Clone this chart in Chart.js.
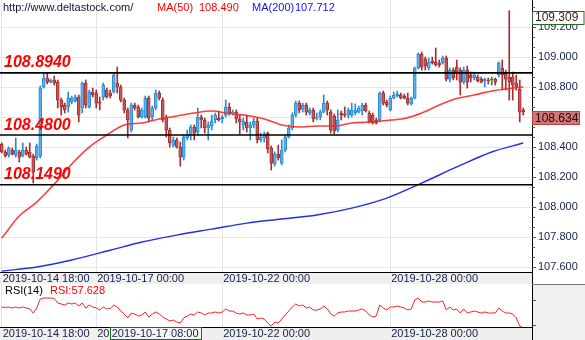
<!DOCTYPE html>
<html><head><meta charset="utf-8">
<script src="https://cdn.jsdelivr.net/npm/chart.js@4"></script>
<style>
html,body{margin:0;padding:0;background:#fff;}
body{width:585px;height:340px;overflow:hidden;position:relative;}
#main{position:absolute;left:0;top:0;}
#rsi{position:absolute;left:0;top:284px;}
</style></head>
<body>
<canvas id="main" width="585" height="284"></canvas>
<canvas id="rsi" width="585" height="56"></canvas>
<script>
// ---------- DATA (2-hour candles) ----------
const openP = [
108.420,108.367,108.347,108.380,108.347,108.367,108.340,108.380,108.367,108.340,
108.327,108.340,108.800,108.860,108.833,108.847,108.833,108.713,108.680,108.667,
108.700,108.707,108.733,108.660,108.827,108.667,108.767,108.760,108.700,108.733,
108.780,108.760,108.767,108.827,108.800,108.713,108.647,108.513,108.680,108.667,
108.600,108.600,108.727,108.600,108.660,108.760,108.713,108.600,108.513,108.413,
108.447,108.400,108.333,108.460,108.480,108.533,108.500,108.600,108.580,108.527,
108.540,108.580,108.593,108.587,108.613,108.667,108.627,108.633,108.587,108.547,
108.567,108.527,108.547,108.573,108.447,108.460,108.493,108.393,108.287,108.353,
108.293,108.380,108.467,108.527,108.613,108.693,108.653,108.680,108.627,108.647,
108.593,108.600,108.633,108.693,108.633,108.607,108.513,108.627,108.620,108.613,
108.613,108.627,108.633,108.640,108.680,108.627,108.613,108.580,108.580,108.760,
108.700,108.647,108.727,108.740,108.747,108.740,108.727,108.687,108.727,108.927,
109.020,108.987,108.927,108.973,108.967,108.960,108.960,108.993,108.853,108.913,
108.933,108.913,108.833,108.913,108.880,108.860,108.867,108.853,108.840,108.847,
108.847,108.853,108.880,108.927,108.893,108.867,108.867,108.827,108.787,108.647];
const highP = [
108.427,108.380,108.400,108.393,108.460,108.380,108.427,108.400,108.427,108.353,
108.420,108.807,108.893,108.893,108.853,108.873,108.847,108.727,108.693,108.767,
108.740,108.747,108.747,108.833,108.847,108.780,108.793,108.780,108.733,108.827,
108.793,108.780,108.893,108.933,108.813,108.727,108.660,108.693,108.693,108.680,
108.660,108.740,108.740,108.673,108.780,108.773,108.727,108.613,108.527,108.467,
108.460,108.433,108.480,108.513,108.547,108.547,108.660,108.613,108.593,108.567,
108.613,108.627,108.640,108.613,108.713,108.693,108.647,108.647,108.613,108.593,
108.613,108.567,108.593,108.593,108.493,108.500,108.500,108.407,108.367,108.413,
108.447,108.480,108.547,108.627,108.707,108.707,108.693,108.693,108.660,108.660,
108.627,108.647,108.747,108.707,108.647,108.620,108.647,108.640,108.667,108.660,
108.693,108.687,108.673,108.693,108.693,108.640,108.627,108.593,108.767,108.773,
108.713,108.740,108.767,108.773,108.760,108.753,108.760,108.733,108.933,109.027,
109.033,109.000,108.993,109.000,109.060,108.980,109.007,109.007,108.927,108.927,
108.980,108.927,108.933,108.940,108.900,108.900,108.880,108.867,108.860,108.860,
108.867,108.860,108.967,108.980,108.913,109.309,108.900,108.880,108.847,108.660];
const lowP = [
108.360,108.333,108.333,108.347,108.333,108.300,108.333,108.347,108.327,108.160,
108.313,108.327,108.793,108.820,108.827,108.813,108.660,108.613,108.627,108.633,
108.687,108.700,108.567,108.627,108.660,108.660,108.733,108.660,108.647,108.713,
108.727,108.727,108.760,108.760,108.700,108.627,108.460,108.500,108.647,108.593,
108.593,108.593,108.567,108.580,108.647,108.713,108.567,108.467,108.400,108.400,
108.393,108.273,108.313,108.447,108.447,108.447,108.480,108.527,108.493,108.447,
108.513,108.560,108.573,108.560,108.600,108.613,108.613,108.560,108.487,108.513,
108.500,108.447,108.527,108.427,108.433,108.433,108.360,108.247,108.273,108.313,
108.280,108.367,108.460,108.513,108.600,108.627,108.633,108.613,108.613,108.567,
108.580,108.580,108.627,108.613,108.493,108.487,108.500,108.580,108.600,108.593,
108.600,108.613,108.627,108.613,108.633,108.560,108.553,108.553,108.567,108.680,
108.667,108.640,108.720,108.733,108.720,108.720,108.680,108.680,108.720,108.920,
108.913,108.913,108.913,108.953,108.940,108.933,108.953,108.840,108.833,108.847,
108.847,108.747,108.820,108.793,108.833,108.847,108.833,108.827,108.800,108.820,
108.813,108.813,108.867,108.780,108.780,108.713,108.713,108.780,108.567,108.613];
const closeP = [
108.367,108.340,108.393,108.353,108.380,108.333,108.380,108.353,108.333,108.233,
108.407,108.793,108.860,108.833,108.847,108.827,108.713,108.667,108.647,108.727,
108.727,108.733,108.613,108.827,108.680,108.767,108.747,108.693,108.693,108.813,
108.733,108.740,108.880,108.800,108.713,108.647,108.580,108.680,108.660,108.600,
108.647,108.727,108.593,108.660,108.760,108.727,108.580,108.513,108.427,108.447,
108.400,108.333,108.467,108.480,108.533,108.493,108.600,108.580,108.527,108.547,
108.573,108.613,108.580,108.600,108.667,108.627,108.633,108.587,108.567,108.573,
108.527,108.547,108.573,108.447,108.467,108.480,108.387,108.293,108.353,108.327,
108.380,108.467,108.527,108.613,108.693,108.647,108.680,108.633,108.647,108.587,
108.600,108.633,108.693,108.647,108.513,108.507,108.580,108.613,108.613,108.647,
108.647,108.647,108.660,108.680,108.640,108.567,108.560,108.560,108.760,108.693,
108.680,108.727,108.747,108.753,108.727,108.727,108.693,108.727,108.927,109.020,
108.933,108.940,108.967,108.960,108.947,108.947,108.993,108.853,108.913,108.860,
108.900,108.833,108.913,108.833,108.860,108.880,108.840,108.833,108.853,108.840,
108.847,108.833,108.960,108.880,108.853,108.833,108.813,108.800,108.633,108.634];

const ma50Idx = [0,5,10,15,20,25,30,35,40,45,50,55,60,65,70,75,80,85,90,95,100,105,110,115,120,125,130,135,140,145,149];
const ma50Val = [107.793,107.940,108.033,108.153,108.287,108.400,108.480,108.547,108.560,108.587,108.607,108.627,108.640,108.623,108.610,108.587,108.547,108.533,108.540,108.540,108.560,108.567,108.577,108.590,108.627,108.680,108.723,108.747,108.773,108.790,108.800];
const ma200Idx = [0,10,20,31,40,50,60,70,80,90,100,110,120,130,140,149];
const ma200Val = [107.573,107.600,107.647,107.712,107.767,107.813,107.853,107.893,107.920,107.947,107.993,108.060,108.160,108.267,108.367,108.427];

const rsiVal = [
60.0,59.2,60.0,58.3,60.0,58.3,60.0,58.3,56.7,50.0,
58.3,73.3,75.0,75.0,75.0,74.2,66.7,65.0,63.3,66.7,
65.0,66.7,61.7,66.7,58.3,63.3,60.0,58.3,55.0,60.0,
56.7,57.6,63.3,60.0,53.3,48.3,41.7,50.0,48.3,45.0,
46.7,51.7,43.3,48.3,51.7,48.3,43.3,40.0,36.7,38.3,
35.0,33.3,41.7,45.0,48.3,46.7,51.7,50.0,46.7,50.0,
50.0,51.7,50.0,51.7,56.7,53.3,53.3,50.0,48.3,50.0,
46.7,46.7,48.3,40.0,41.7,40.0,33.3,28.3,35.0,33.3,
40.0,46.7,53.3,60.0,65.0,61.7,63.3,58.3,60.0,55.0,
55.0,56.7,61.7,56.7,48.3,45.0,50.0,51.7,51.7,53.3,
53.3,53.3,55.0,56.7,53.3,46.7,43.3,45.0,63.3,58.3,
55.0,60.0,60.0,61.7,60.0,58.3,55.0,56.7,71.7,75.0,
68.3,68.3,70.0,68.3,68.3,68.3,70.0,55.0,60.0,55.0,
56.7,50.0,56.7,50.0,51.7,53.3,51.7,50.0,51.7,50.0,
50.0,50.0,58.3,53.3,50.0,50.0,48.3,41.7,28.3,25.0];

const levelVals   = [108.894, 108.480, 108.149];
const levelLabels = ['108.8940', '108.4800', '108.1490'];
const priceTicks  = [107.6, 107.8, 108.0, 108.2, 108.4, 108.6, 108.8, 109.0, 109.2];
const rsiTicks    = [30, 50, 70, 90];
const dateTickIdx  = [0, 27, 63, 111];
const dateTickText = ['2019-10-14 18:00', '2019-10-17 00:00', '2019-10-22 00:00', '2019-10-28 00:00'];
const crossIdx = 31;
const crossText = '2019-10-17 08:00';
const crossMA50 = 108.490, crossMA200 = 107.712, crossRSI = 57.628;
const siteText = 'http://www.deltastock.com/';

// ---------- STYLE ----------
const FONT = '"Liberation Sans", Arial, sans-serif';
Chart.defaults.font.family = FONT;
const AXIS_W = 53, XMIN = -0.5, XMAX = 151.5;
const COL = {
  upFill:'#5ab2ea', upLine:'#2a8bd2',
  dnFill:'#c65a5a', dnLine:'#a62e2e',
  flat:'#1e9e1e', text:'#14204a'
};
const kind = i => closeP[i] > openP[i] ? 'up' : (closeP[i] < openP[i] ? 'dn' : 'flat');
const bodyFill   = openP.map((_, i) => kind(i)==='up'?COL.upFill:kind(i)==='dn'?COL.dnFill:COL.flat);
const bodyBorder = openP.map((_, i) => kind(i)==='up'?COL.upLine:kind(i)==='dn'?COL.dnLine:COL.flat);

const xScaleCommon = (h) => ({
  type:'linear', min:XMIN, max:XMAX, offset:false, bounds:'data',
  afterBuildTicks: s => { s.ticks = dateTickIdx.map(v => ({value:v})); },
  afterFit: s => { s.height = h; s.paddingLeft = 0; s.paddingRight = 0; },
  ticks:{display:false},
  grid:{color:'#e4e4e4', drawTicks:false, lineWidth:1, offset:false},
  border:{display:false}
});
const yFit = s => { s.width = AXIS_W; s.paddingTop = 0; s.paddingBottom = 0; };

const mainDecor = {
  id:'mainDecor',
  afterDatasetsDraw(chart){
    const {ctx, chartArea:a, scales:{y}} = chart;
    ctx.save();
    levelVals.forEach((v, k) => {
      const py = y.getPixelForValue(v);
      ctx.strokeStyle = '#000'; ctx.lineWidth = 1.6;
      ctx.beginPath(); ctx.moveTo(a.left, py); ctx.lineTo(a.right, py); ctx.stroke();
      ctx.font = 'italic bold 16px ' + FONT;
      ctx.fillStyle = '#ff0000'; ctx.textBaseline = 'alphabetic'; ctx.textAlign = 'left';
      ctx.fillText(levelLabels[k], 4, py - 5.5);
    });
    ctx.restore();
  },
  afterDraw(chart){
    const {ctx, chartArea:a, scales:{x, y}} = chart;
    const W = chart.width, H = chart.height;
    ctx.save();
    ctx.fillStyle = '#efefef';
    ctx.fillRect(a.left, a.bottom, a.right - a.left, H - a.bottom);
    ctx.strokeStyle = '#000'; ctx.lineWidth = 1;
    ctx.beginPath(); ctx.moveTo(a.left, a.bottom + 0.5); ctx.lineTo(a.right, a.bottom + 0.5); ctx.stroke();
    ctx.beginPath(); ctx.moveTo(a.right + 0.5, 0); ctx.lineTo(a.right + 0.5, H); ctx.stroke();
    ctx.font = '11px ' + FONT; ctx.fillStyle = COL.text; ctx.textBaseline = 'middle'; ctx.textAlign = 'left';
    dateTickIdx.forEach((idx, k) => ctx.fillText(dateTickText[k], x.getPixelForValue(idx) + 1, a.bottom + 6.5));
    ctx.strokeStyle = '#555';
    const step = 0.2 / 3;
    for (let k = Math.ceil(y.min / step); k * step <= y.max; k++) {
      const py = Math.round(y.getPixelForValue(k * step)) + 0.5;
      ctx.beginPath(); ctx.moveTo(a.right, py); ctx.lineTo(a.right + 3, py); ctx.stroke();
    }
    ctx.font = '11px ' + FONT; ctx.textBaseline = 'middle';
    ctx.fillStyle = '#101030'; ctx.fillText(siteText, 3, 8);
    ctx.fillStyle = '#ff0000'; ctx.fillText('MA(50)', 157, 8); ctx.fillText(crossMA50.toFixed(3), 199, 8);
    ctx.fillStyle = '#1010ff'; ctx.fillText('MA(200)', 252, 8); ctx.fillText(crossMA200.toFixed(3), 295, 8);
    const hi = Math.max(...highP);
    const pyH = Math.round(y.getPixelForValue(hi));
    ctx.fillStyle = '#ffffff'; ctx.fillRect(a.right + 0.5, pyH, W - a.right - 1.5, 13);
    ctx.strokeStyle = '#2a6a2a'; ctx.strokeRect(a.right + 0.5, pyH + 0.5, W - a.right - 1.5, 13);
    ctx.fillStyle = '#3a2020'; ctx.font = '12px ' + FONT;
    ctx.fillText(hi.toFixed(3), a.right + 3, pyH + 7);
    const last = closeP[closeP.length - 1];
    const pyL = Math.round(y.getPixelForValue(last)) - 0.5;
    ctx.fillStyle = '#d47676'; ctx.fillRect(a.right + 0.5, pyL, 47, 13);
    ctx.strokeStyle = '#b04444'; ctx.strokeRect(a.right + 0.5, pyL, 47, 13);
    ctx.fillStyle = '#1a0a0a';
    ctx.fillText(last.toFixed(3), a.right + 3, pyL + 7);
    ctx.restore();
  }
};

new Chart(document.getElementById('main'), {
  type:'bar',
  data:{datasets:[
    {type:'line', label:'MA(50)', data: ma50Idx.map((x, k) => ({x, y:ma50Val[k]})),
     borderColor:'rgba(255,40,40,0.9)', borderWidth:1.6, pointRadius:0, cubicInterpolationMode:'monotone', order:0},
    {type:'line', label:'MA(200)', data: ma200Idx.map((x, k) => ({x, y:ma200Val[k]})),
     borderColor:'#2030e8', borderWidth:1.4, pointRadius:0, cubicInterpolationMode:'monotone', order:1},
    {label:'body', data: openP.map((o, i) => ({x:i, y:[o, closeP[i]]})),
     backgroundColor: bodyFill, borderColor: bodyBorder, borderWidth:1, borderSkipped:false,
     barThickness:3, grouped:false, minBarLength:1, order:2},
    {label:'wick', data: openP.map((_, i) => ({x:i, y:[lowP[i], highP[i]]})),
     backgroundColor: bodyBorder, borderWidth:0, barThickness:1, grouped:false, order:3}
  ]},
  options:{
    responsive:false, animation:false, events:[],
    layout:{padding:0},
    plugins:{legend:{display:false}, tooltip:{enabled:false}},
    scales:{
      x: xScaleCommon(12),
      y: {
        position:'right', min:107.567, max:109.38,
        afterBuildTicks: s => { s.ticks = priceTicks.map(v => ({value:v})); },
        afterFit: yFit,
        ticks:{callback: v => v.toFixed(3), font:{size:11, family:FONT}, color:COL.text, padding:2},
        grid:{color:'#e8e8e8', tickColor:'#555', tickLength:4},
        border:{display:true, color:'#000', width:1}
      }
    }
  },
  plugins:[mainDecor]
});

const rsiDecor = {
  id:'rsiDecor',
  beforeDraw(chart){
    const {ctx, chartArea:a} = chart;
    ctx.save();
    ctx.fillStyle = '#f0f0f0';
    ctx.fillRect(a.right, 0, chart.width - a.right, chart.height);
    ctx.restore();
  },
  afterDraw(chart){
    const {ctx, chartArea:a, scales:{x}} = chart;
    const W = chart.width, H = chart.height;
    ctx.save();
    ctx.fillStyle = '#efefef';
    ctx.fillRect(a.left, a.bottom, a.right - a.left, H - a.bottom);
    ctx.strokeStyle = '#000'; ctx.lineWidth = 1;
    ctx.beginPath(); ctx.moveTo(a.left, a.bottom + 0.5); ctx.lineTo(a.right, a.bottom + 0.5); ctx.stroke();
    ctx.beginPath(); ctx.moveTo(a.right + 0.5, 0); ctx.lineTo(a.right + 0.5, H); ctx.stroke();
    ctx.strokeStyle = '#777';
    ctx.beginPath(); ctx.moveTo(a.right, 0.5); ctx.lineTo(W, 0.5); ctx.stroke();
    ctx.font = '11px ' + FONT; ctx.fillStyle = COL.text; ctx.textBaseline = 'middle'; ctx.textAlign = 'left';
    dateTickIdx.forEach((idx, k) => ctx.fillText(dateTickText[k], x.getPixelForValue(idx) + 1, a.bottom + 7));
    const cx = x.getPixelForValue(crossIdx);
    ctx.fillStyle = '#f4f4f4'; ctx.fillRect(cx, a.bottom + 1, 92, H - a.bottom - 1);
    ctx.strokeStyle = '#1d6b1d';
    ctx.strokeRect(Math.round(cx) + 0.5, a.bottom + 0.5, 91, H - a.bottom - 1);
    ctx.fillStyle = COL.text; ctx.fillText(crossText, cx + 1.5, a.bottom + 7);
    ctx.fillStyle = '#000'; ctx.fillText('RSI(14)', 5, 7);
    ctx.fillStyle = '#ff0000'; ctx.fillText('RSI:' + crossRSI.toFixed(3), 50, 7);
    ctx.restore();
  }
};

new Chart(document.getElementById('rsi'), {
  type:'line',
  data:{datasets:[{label:'RSI(14)', data: rsiVal.map((v, i) => ({x:i, y:v})),
    borderColor:'#ff1e1e', borderWidth:1, pointRadius:0, tension:0}]},
  options:{
    responsive:false, animation:false, events:[],
    layout:{padding:0},
    plugins:{legend:{display:false}, tooltip:{enabled:false}},
    scales:{
      x: xScaleCommon(13),
      y: {
        position:'right', min:26.67, max:98.33,
        afterBuildTicks: s => { s.ticks = rsiTicks.map(v => ({value:v})); },
        afterFit: yFit,
        ticks:{callback: v => v === 50 ? '50.00' : '', font:{size:11, family:FONT}, color:COL.text, padding:2},
        grid:{color: c => (c.tick && c.tick.value === 50) ? '#e2e2e2' : 'rgba(0,0,0,0)', tickColor:'#555', tickLength:4},
        border:{display:true, color:'#000', width:1}
      }
    }
  },
  plugins:[rsiDecor]
});
</script>
</body></html>
